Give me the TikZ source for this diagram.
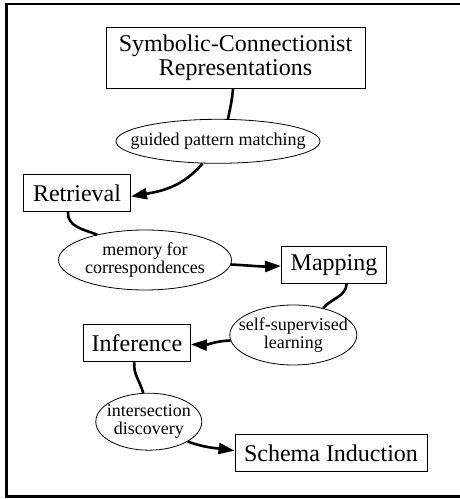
\documentclass[tikz,border=0pt]{standalone}
\usepackage{fontspec}
\setmainfont{Liberation Serif}
\usetikzlibrary{shapes.geometric,arrows.meta}
\begin{document}
\begin{tikzpicture}[x=1pt,y=1pt,
  stagebox/.style={draw=black,line width=0.9pt,rectangle,inner sep=0pt,
    font=\fontsize{24}{24}\selectfont,align=center},
  oval/.style={draw=black,line width=0.8pt,ellipse,inner sep=0pt},
  ovaltext/.style={font=\fontsize{18}{18}\selectfont,align=center,inner sep=0pt},
  link/.style={line width=2.6pt},
  flow/.style={link,-{Triangle[length=16pt,width=11pt]}}]
  \useasboundingbox (0,0) rectangle (460,499);
  % outer frame, open on the right
  \draw[line width=2.6pt] (465,495) -- (6.5,495) -- (6.5,2.5) -- (465,2.5);

  % processing stages
  \node[stagebox,minimum width=259pt,minimum height=61pt] (sc) at (235.5,441.2)
    {Symbolic-Connectionist\\Representations};
  \node[stagebox,minimum width=107pt,minimum height=37pt] (rt) at (77,306) {Retrieval};
  \node[stagebox,minimum width=105pt,minimum height=37pt] (mp) at (334,234) {Mapping};
  \node[stagebox,minimum width=107pt,minimum height=37pt] (inf) at (137,155.7) {Inference};
  \node[stagebox,minimum width=192pt,minimum height=37pt] (si) at (331,45.7) {Schema Induction};

  % mechanisms linking the stages
  \node[oval,minimum width=204pt,minimum height=44pt] (e1) at (218,357.7) {};
  \node[ovaltext] (t1) at (e1.center) {guided pattern matching};
  \node[oval,minimum width=173pt,minimum height=60pt] (e2) at (145,239) {};
  \node[ovaltext] (t2) at (e2.center) {memory for\\correspondences};
  \node[oval,minimum width=127pt,minimum height=60pt] (e3) at (293.3,164) {};
  \node[ovaltext] (t3) at (e3.center) {self-supervised\\learning};
  \node[oval,minimum width=106pt,minimum height=57pt] (e4) at (148.8,77.3) {};
  \node[ovaltext] (t4) at (e4.center) {intersection\\discovery};

  % connectors
  \draw[link] ([xshift=-2.5pt]sc.south) to[out=-95,in=78] (e1.66);
  \draw[flow] (e1.-125) to[out=-130,in=10] ([yshift=-3.5pt]rt.east);
  \draw[link] ([xshift=-9pt]rt.south) to[out=-95,in=160] (e2.152);
  \draw[flow] (e2.-3) to[out=-3,in=182] ([yshift=-1pt]mp.west);
  \draw[link] ([xshift=12.7pt]mp.south) to[out=-95,in=50] (e3.42);
  \draw[flow] (e3.185) to[out=182,in=-3] ([yshift=-1pt]inf.east);
  \draw[link] ([xshift=-2.7pt]inf.south) to[out=-95,in=105] (e4.101);
  \draw[flow] (e4.-27) to[out=-20,in=172] ([yshift=2.6pt]si.west);
\end{tikzpicture}
\end{document}
